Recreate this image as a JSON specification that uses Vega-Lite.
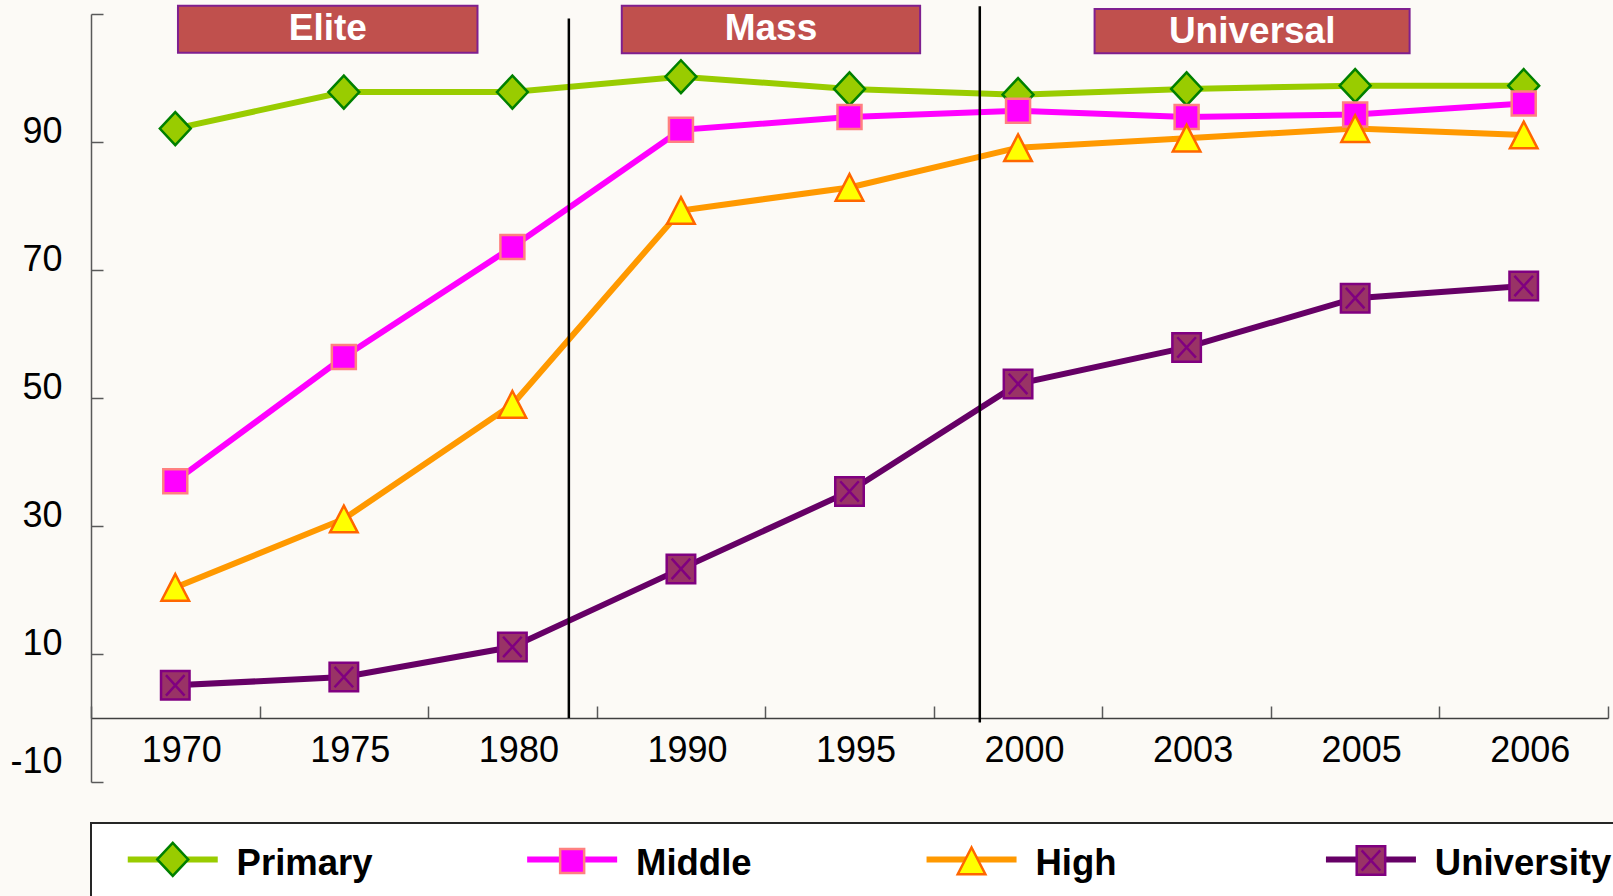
{
  "$schema": "https://vega.github.io/schema/vega-lite/v6.json",
  "width": 1517,
  "height": 768,
  "autosize": {"type": "none"},
  "padding": {"left": 91, "top": 14, "right": 5, "bottom": 114},
  "background": "#FCFAF6",
  "config": {"view": {"stroke": null}, "font": "Liberation Sans"},
  "resolve": {"scale": {"x": "independent"}, "axis": {"y": "independent"}},
  "layer": [
    {
      "data": {
        "values": [
          {"year": "1970", "level": "Primary", "value": 92.1},
          {"year": "1975", "level": "Primary", "value": 97.8},
          {"year": "1980", "level": "Primary", "value": 97.8},
          {"year": "1990", "level": "Primary", "value": 100.2},
          {"year": "1995", "level": "Primary", "value": 98.3},
          {"year": "2000", "level": "Primary", "value": 97.4},
          {"year": "2003", "level": "Primary", "value": 98.3},
          {"year": "2005", "level": "Primary", "value": 98.8},
          {"year": "2006", "level": "Primary", "value": 98.8},
          {"year": "1970", "level": "Middle", "value": 37.0},
          {"year": "1975", "level": "Middle", "value": 56.4},
          {"year": "1980", "level": "Middle", "value": 73.6},
          {"year": "1990", "level": "Middle", "value": 91.9},
          {"year": "1995", "level": "Middle", "value": 93.9},
          {"year": "2000", "level": "Middle", "value": 94.9},
          {"year": "2003", "level": "Middle", "value": 93.9},
          {"year": "2005", "level": "Middle", "value": 94.3},
          {"year": "2006", "level": "Middle", "value": 96.0},
          {"year": "1970", "level": "High", "value": 20.4},
          {"year": "1975", "level": "High", "value": 31.1},
          {"year": "1980", "level": "High", "value": 49.0},
          {"year": "1990", "level": "High", "value": 79.3},
          {"year": "1995", "level": "High", "value": 82.9},
          {"year": "2000", "level": "High", "value": 89.1},
          {"year": "2003", "level": "High", "value": 90.6},
          {"year": "2005", "level": "High", "value": 92.1},
          {"year": "2006", "level": "High", "value": 91.1},
          {"year": "1970", "level": "University", "value": 5.1},
          {"year": "1975", "level": "University", "value": 6.4},
          {"year": "1980", "level": "University", "value": 11.1},
          {"year": "1990", "level": "University", "value": 23.3},
          {"year": "1995", "level": "University", "value": 35.4},
          {"year": "2000", "level": "University", "value": 52.2},
          {"year": "2003", "level": "University", "value": 57.9},
          {"year": "2005", "level": "University", "value": 65.6},
          {"year": "2006", "level": "University", "value": 67.5}
        ]
      },
      "encoding": {
        "x": {
          "field": "year",
          "type": "ordinal",
          "scale": {"type": "band", "paddingInner": 0, "paddingOuter": 0},
          "axis": {
            "title": null,
            "labelAngle": 0,
            "tickBand": "extent",
            "tickSize": -12,
            "labelPadding": 27,
            "labelOffset": 6,
            "offset": -64,
            "labelFont": "Liberation Sans",
            "labelFontSize": 36,
            "labelColor": "black",
            "domainColor": "#404040",
            "tickColor": "#595959",
            "domainWidth": 1.5,
            "tickWidth": 1.5,
            "grid": false
          }
        },
        "y": {
          "field": "value",
          "type": "quantitative",
          "scale": {"domain": [-10, 110], "nice": false, "zero": false},
          "axis": {
            "title": null,
            "orient": "left",
            "values": [-10, 10, 30, 50, 70, 90, 110],
            "labelExpr": "datum.value == 110 ? '' : '' + datum.value",
            "grid": false,
            "tickSize": -12,
            "labelPadding": 41,
            "labelFlush": false,
            "labelFont": "Liberation Sans",
            "labelFontSize": 36,
            "labelColor": "black",
            "labelOffset": {"condition": {"test": "datum.value == -10", "value": -21}, "value": -11},
            "domainColor": "#595959",
            "tickColor": "#595959",
            "domainWidth": 1.5,
            "tickWidth": 1.5
          }
        }
      },
      "layer": [
        {
          "mark": {"type": "line", "strokeWidth": 6},
          "encoding": {
            "color": {
              "field": "level",
              "type": "nominal",
              "sort": ["Primary", "Middle", "High", "University"],
              "scale": {
                "range": ["#99CC00", "#FF00FF", "#FF9900", "#660066"]
              },
              "legend": {
                "orient": "none",
                "legendX": 0,
                "legendY": 809,
                "direction": "horizontal",
                "columns": 4,
                "gridAlign": "all",
                "title": null,
                "padding": 18,
                "fillColor": "white",
                "strokeColor": "#262626",
                "columnPadding": 94.4,
                "symbolType": "M-3,0L3,0",
                "symbolSize": 900,
                "symbolStrokeWidth": 6,
                "symbolOffset": 45.5,
                "labelOffset": 45.6,
                "labelFont": "Liberation Sans",
                "labelFontSize": 36.5,
                "labelFontWeight": "bold",
                "labelColor": "black",
                "labelLimit": 400,
                "zindex": 1,
                "encode": {
                  "legend": {"update": {"strokeWidth": {"value": 2}}},
                  "labels": {"update": {"dy": {"value": 5}}}
                }
              }
            }
          }
        },
        {
          "mark": {"type": "point", "filled": true, "size": 900, "strokeWidth": 2.5, "opacity": 1},
          "encoding": {
            "fill": {
              "field": "level",
              "type": "nominal",
              "scale": {"domain": ["Primary", "Middle", "High", "University"], "range": ["#99CC00", "#FF00FF", "#FFFF00", "#993366"]},
              "legend": {
                "orient": "none",
                "legendX": 0,
                "legendY": 809,
                "direction": "horizontal",
                "columns": 4,
                "gridAlign": "all",
                "title": null,
                "padding": 18,
                "columnPadding": 271.4,
                "symbolSize": 900,
                "symbolStrokeWidth": 2.5,
                "symbolOpacity": 1,
                "symbolOffset": 45.5,
                "labelOffset": 45.6,
                "labelExpr": "''",
                "labelFont": "Liberation Sans",
                "labelFontSize": 36.5,
                "labelFontWeight": "bold",
                "labelColor": "transparent",
                "labelLimit": 400,
                "zindex": 2
              }
            },
            "stroke": {
              "field": "level",
              "type": "nominal",
              "scale": {"domain": ["Primary", "Middle", "High", "University"], "range": ["#008000", "#FF8080", "#FF6600", "#800080"]},
              "legend": {
                "orient": "none",
                "legendX": 0,
                "legendY": 809,
                "direction": "horizontal",
                "columns": 4,
                "gridAlign": "all",
                "title": null,
                "padding": 18,
                "columnPadding": 271.4,
                "symbolSize": 900,
                "symbolStrokeWidth": 2.5,
                "symbolOpacity": 1,
                "symbolOffset": 45.5,
                "labelOffset": 45.6,
                "labelExpr": "''",
                "labelFont": "Liberation Sans",
                "labelFontSize": 36.5,
                "labelFontWeight": "bold",
                "labelColor": "transparent",
                "labelLimit": 400,
                "zindex": 2
              }
            },
            "shape": {
              "field": "level",
              "type": "nominal",
              "scale": {
                "domain": ["Primary", "Middle", "High", "University"],
                "range": [
                  "M-1.03,0L0,-1.1L1.03,0L0,1.1Z",
                  "M-0.8,-0.8L0.8,-0.8L0.8,0.8L-0.8,0.8Z",
                  "M0,-0.89L0.92,0.89L-0.92,0.89Z",
                  "M-0.95,-0.95L0.95,-0.95L0.95,0.95L-0.95,0.95Z M-0.62,-0.68L0.62,0.68 M-0.62,0.68L0.62,-0.68"
                ]
              },
              "legend": {
                "orient": "none",
                "legendX": 0,
                "legendY": 809,
                "direction": "horizontal",
                "columns": 4,
                "gridAlign": "all",
                "title": null,
                "padding": 18,
                "columnPadding": 271.4,
                "symbolSize": 900,
                "symbolStrokeWidth": 2.5,
                "symbolOpacity": 1,
                "symbolOffset": 45.5,
                "labelOffset": 45.6,
                "labelExpr": "''",
                "labelFont": "Liberation Sans",
                "labelFontSize": 36.5,
                "labelFontWeight": "bold",
                "labelColor": "transparent",
                "labelLimit": 400,
                "zindex": 2
              }
            }
          }
        }
      ]
    },
    {
      "layer": [
        {
          "data": {
            "values": [
              {"boundary": 2.835, "top": 109.3, "bottom": 0},
              {"boundary": 5.273, "top": 111.2, "bottom": -0.7}
            ]
          },
          "mark": {"type": "rule", "color": "black", "strokeWidth": 2.5},
          "encoding": {
            "x": {"field": "boundary", "type": "quantitative", "scale": {"domain": [0, 9], "nice": false, "zero": false}, "axis": null},
            "y": {"field": "top", "type": "quantitative", "scale": {"domain": [-10, 110], "nice": false, "zero": false}, "axis": null},
            "y2": {"field": "bottom"}
          }
        },
        {
          "data": {
            "values": [
              {"era": "Elite", "start": 0.516, "end": 2.293, "mid": 1.405, "top": 111.3, "bottom": 103.95, "label_y": 107.7},
              {"era": "Mass", "start": 3.149, "end": 4.919, "mid": 4.034, "top": 111.3, "bottom": 103.85, "label_y": 107.7},
              {"era": "Universal", "start": 5.954, "end": 7.823, "mid": 6.889, "top": 110.8, "bottom": 103.85, "label_y": 107.2}
            ]
          },
          "layer": [
            {
              "mark": {"type": "rect", "fill": "#C0504D", "stroke": "#7F1F8F", "strokeWidth": 2},
              "encoding": {
                "x": {"field": "start", "type": "quantitative", "scale": {"domain": [0, 9], "nice": false, "zero": false}, "axis": null},
                "x2": {"field": "end"},
                "y": {"field": "top", "type": "quantitative", "scale": {"domain": [-10, 110], "nice": false, "zero": false}, "axis": null},
                "y2": {"field": "bottom"}
              }
            },
            {
              "mark": {"type": "text", "font": "Liberation Sans", "fontWeight": "bold", "fontSize": 37, "color": "white", "align": "center", "baseline": "middle"},
              "encoding": {
                "x": {"field": "mid", "type": "quantitative", "scale": {"domain": [0, 9], "nice": false, "zero": false}, "axis": null},
                "y": {"field": "label_y", "type": "quantitative", "scale": {"domain": [-10, 110], "nice": false, "zero": false}, "axis": null},
                "text": {"field": "era"}
              }
            }
          ]
        }
      ]
    }
  ]
}
